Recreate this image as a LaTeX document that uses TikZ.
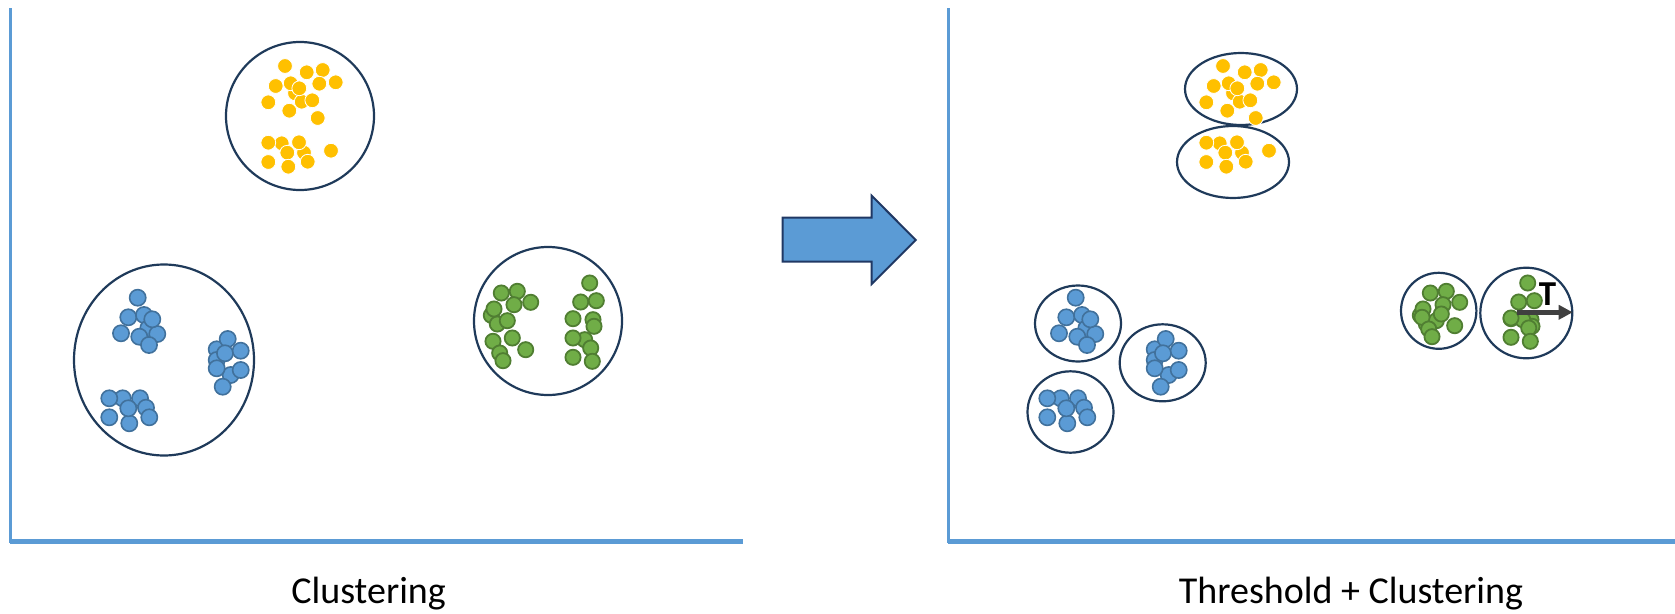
\documentclass[tikz,border=0pt]{standalone}
\usepackage{fontspec}
\setmainfont{Carlito}
\usetikzlibrary{arrows.meta}
\definecolor{axisblue}{HTML}{5B9BD5}
\definecolor{dotblue}{HTML}{5B9BD5}
\definecolor{edgeblue}{HTML}{41719C}
\definecolor{dotgreen}{HTML}{70AD47}
\definecolor{edgegreen}{HTML}{507E32}
\definecolor{dotyellow}{HTML}{FFC000}
\definecolor{ringnavy}{HTML}{1F3A5A}
\definecolor{arrownavy}{HTML}{203864}
\definecolor{tgray}{HTML}{404040}
\tikzset{
  axisline/.style={draw=axisblue,line cap=butt},
  ring/.style={draw=ringnavy,line width=2.2pt},
  ydot/.style={fill=dotyellow,draw=white,line width=0.8pt},
  bdot/.style={fill=dotblue,draw=edgeblue,line width=1.6pt},
  gdot/.style={fill=dotgreen,draw=edgegreen,line width=1.8pt},
  caption/.style={font=\fontsize{38}{46}\selectfont,anchor=base,inner sep=0pt}
}
\newcommand\yellowupper{295/93.3,301.7/101.7,290.7/83.3,285/66,306.7/72.3,322.7/70,275.7/86,299.3/88.3,319.3/83.7,335.7/82.3,268.3/102.3,289.3/110.7,312.3/100.3,317.7/118}
\newcommand\yellowlower{281.7/143.3,304/152.7,268.3/142.7,299/142.3,287.3/152.7,268.3/162,288.3/166.7,307.7/161.7,331/150.7}
\newcommand\bluetop{137.7/297.7,128.3/317.3,144/315,121/333.3,148.3/328.3,157.3/334,139.3/336.7,149/345,152.3/319.3}
\newcommand\blueside{216.7/349.3,216.7/360,227.7/339,230.7/375,222.7/386.7,225/353.3,240.7/350.7,216.7/368.3,240.7/370}
\newcommand\bluelow{122.7/398.3,140/398.3,109.3/398.3,109.3/417.3,129.3/423.3,128.3/408.3,146/407.7,149.3/417.3}
\newcommand\greenleftup{491.3/315.3,497.3/324,501.3/293,517.3/291.3,494/309,514/304.7,530.7/302.3,507.3/320.7}
\newcommand\greenleftlow{493/341.3,499.7/353,503/360.7,512.3/338,525.7/349.7}
\newcommand\greenrightup{589.7/283,580.7/302,596.3/300.7,573/318.7,593/319.7,594/326.3}
\newcommand\greenrightlow{584.7/339.7,573/338,590.7/348,573/357.3,592.3/361.3}

\begin{document}
\begin{tikzpicture}[
  x=1pt,y=-1pt,
  bigarrow/.style={fill=axisblue,draw=arrownavy,line width=2pt,line join=miter},
  tarrow/.style={-{Triangle[length=14pt,width=14pt]},draw=tgray,line width=4.5pt}
]
  \useasboundingbox (0,0) rectangle (1675,613);

  \draw[axisline,line width=2.5pt] (10.7,8) -- (10.7,543);
  \draw[axisline,line width=4.5pt] (9.5,541.5) -- (742.5,541.5);
  \draw[axisline,line width=2.5pt] (948.7,8) -- (948.7,543);
  \draw[axisline,line width=4.5pt] (947.5,541.5) -- (1675,541.5);

  \draw[ring] (300,116) circle (74pt);
  \draw[ring] (164,360) ellipse (90pt and 95.5pt);
  \draw[ring] (548,321) circle (74pt);

  \draw[ring] (1241,89) ellipse (56pt and 36pt);
  \draw[ring] (1233,162) ellipse (56pt and 36pt);
  \draw[ring] (1078,323.5) ellipse (43pt and 38pt);
  \draw[ring] (1162.7,362.8) ellipse (43pt and 38.5pt);
  \draw[ring] (1070.5,412) ellipse (43pt and 40.7pt);
  \draw[ring] (1438.7,310.8) ellipse (37.7pt and 38pt);
  \draw[ring] (1526.3,313) ellipse (46pt and 45.3pt);

  \foreach \x/\y in \yellowupper \path[ydot] (\x,\y) circle (7.4pt);
  \foreach \x/\y in \yellowlower \path[ydot] (\x,\y) circle (7.4pt);
  \foreach \x/\y in \bluetop \path[bdot] (\x,\y) circle (8.1pt);
  \foreach \x/\y in \blueside \path[bdot] (\x,\y) circle (8.1pt);
  \foreach \x/\y in \bluelow \path[bdot] (\x,\y) circle (8.1pt);
  \foreach \x/\y in \greenleftup \path[gdot] (\x,\y) circle (7.6pt);
  \foreach \x/\y in \greenleftlow \path[gdot] (\x,\y) circle (7.6pt);
  \foreach \x/\y in \greenrightup \path[gdot] (\x,\y) circle (7.6pt);
  \foreach \x/\y in \greenrightlow \path[gdot] (\x,\y) circle (7.6pt);

  \begin{scope}[shift={(938,0)}]
    \foreach \x/\y in \yellowupper \path[ydot] (\x,\y) circle (7.4pt);
    \foreach \x/\y in \yellowlower \path[ydot] (\x,\y) circle (7.4pt);
    \foreach \x/\y in \bluetop \path[bdot] (\x,\y) circle (8.1pt);
    \foreach \x/\y in \blueside \path[bdot] (\x,\y) circle (8.1pt);
    \foreach \x/\y in \bluelow \path[bdot] (\x,\y) circle (8.1pt);
    \foreach \x/\y in \greenrightup \path[gdot] (\x,\y) circle (7.6pt);
  \end{scope}
  \begin{scope}[shift={(938,-20)}]
    \foreach \x/\y in \greenrightlow \path[gdot] (\x,\y) circle (7.6pt);
  \end{scope}
  \begin{scope}[shift={(929,0)}]
    \foreach \x/\y in \greenleftup \path[gdot] (\x,\y) circle (7.6pt);
  \end{scope}
  \begin{scope}[shift={(929,-24)}]
    \foreach \x/\y in \greenleftlow \path[gdot] (\x,\y) circle (7.6pt);
  \end{scope}

  \draw[bigarrow] (782.7,217.7) -- (871.7,217.7) -- (871.7,195.7) -- (915.7,240)
    -- (871.7,284) -- (871.7,261.7) -- (782.7,261.7) -- cycle;

  \coordinate (tstart) at (1516.7,312.3);
  \coordinate (tend) at (1572.7,312.3);
  \draw[tarrow] (tstart) -- (tend);
  \node[font=\fontsize{35}{40}\selectfont\bfseries,anchor=base,inner sep=0pt] (tlabel)
    at (1547.5,305.5) {T};

  \node[caption] (leftcap) at (368.6,603.3) {Clustering};
  \node[caption] (rightcap) at (1351,603.3) {Threshold + Clustering};
\end{tikzpicture}
\end{document}
